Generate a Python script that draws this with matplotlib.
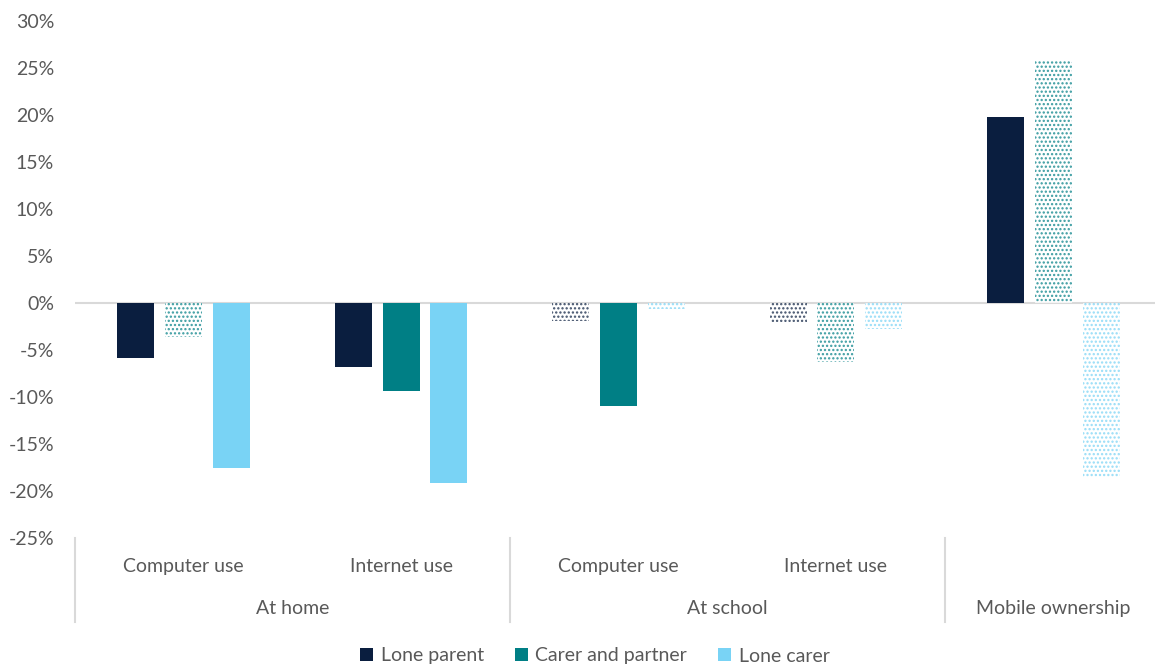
import matplotlib.pyplot as plt
from matplotlib.patches import Patch
import matplotlib.transforms as mtransforms

plt.rcParams['font.family'] = ['Lato', 'DejaVu Sans']
plt.rcParams['hatch.linewidth'] = 1.1

COLORS = {
    "lone_parent": "#0A1E3F",
    "carer_partner": "#007F85",
    "lone_carer": "#79D3F5",
    "axis": "#D9D9D9",
    "text": "#595959",
}

sub_labels = ['Computer use', 'Internet use', 'Computer use', 'Internet use', '']
group_labels = ['At home', 'At school', 'Mobile ownership']
group_spans = [(0, 1), (2, 3), (4, 4)]

series_names = ['Lone parent', 'Carer and partner', 'Lone carer']
lone_parent = [-5.9, -6.8, -1.9, -2.0, 19.8]
carer_partner = [-3.6, -9.4, -11.0, -6.3, 25.8]
lone_carer = [-17.6, -19.2, -0.6, -2.8, -18.5]

# True = solid fill, False = dotted fill (not significant)
lone_parent_sig = [True, True, False, False, True]
carer_partner_sig = [False, True, True, False, False]
lone_carer_sig = [True, True, False, False, False]

series = [
    (lone_parent, lone_parent_sig, COLORS["lone_parent"]),
    (carer_partner, carer_partner_sig, COLORS["carer_partner"]),
    (lone_carer, lone_carer_sig, COLORS["lone_carer"]),
]

fig = plt.figure(figsize=(11.55, 6.66), dpi=100)
ax = fig.add_axes([75 / 1155, 1 - 538 / 666, 1087 / 1155, 517 / 666])

x = list(range(len(sub_labels)))
width = 0.17
step = 0.22
for i, (vals, sig, col) in enumerate(series):
    off = (i - 1) * step
    for xi, v, s in zip(x, vals, sig):
        if s:
            ax.bar(xi + off, v, width, color=col, edgecolor='none', zorder=2)
        else:
            ax.bar(xi + off, v, width, facecolor='white', edgecolor=col,
                   hatch='....', linewidth=0, alpha=0.75, zorder=2)

ax.axhline(0, color=COLORS["axis"], linewidth=1.5, zorder=1)
ax.set_xlim(-0.5, 4.5)
ax.set_ylim(-25, 30)
ax.set_yticks(range(-25, 31, 5))
ax.set_yticklabels([f'{t}%' for t in range(-25, 31, 5)], fontsize=14,
                   color=COLORS["text"])
ax.tick_params(axis='y', length=0, pad=15)
ax.set_xticks([])
for sp in ax.spines.values():
    sp.set_visible(False)

# multi-level category axis
trans = mtransforms.blended_transform_factory(ax.transData, ax.transAxes)
for sx in [-0.5, 1.5, 3.5, 4.5]:
    ax.plot([sx, sx], [0, -0.1625], transform=trans, color=COLORS["axis"],
            linewidth=1.5, clip_on=False)
for xi, lab in zip(x, sub_labels):
    ax.text(xi, -0.056, lab, transform=trans, ha='center', va='center',
            fontsize=14, color=COLORS["text"])
for (a, b), lab in zip(group_spans, group_labels):
    ax.text((a + b) / 2, -0.137, lab, transform=trans, ha='center',
            va='center', fontsize=14, color=COLORS["text"])

handles = [Patch(facecolor=c, edgecolor='none') for c in
           [COLORS["lone_parent"], COLORS["carer_partner"], COLORS["lone_carer"]]]
fig.legend(handles, series_names, loc='center', bbox_to_anchor=(0.515, 1 - 656 / 666),
           ncol=3, frameon=False, fontsize=14, handlelength=0.65, handleheight=0.65,
           handletextpad=0.4, columnspacing=1.6, labelcolor=COLORS["text"])

fig.savefig('out.png', dpi=100)
